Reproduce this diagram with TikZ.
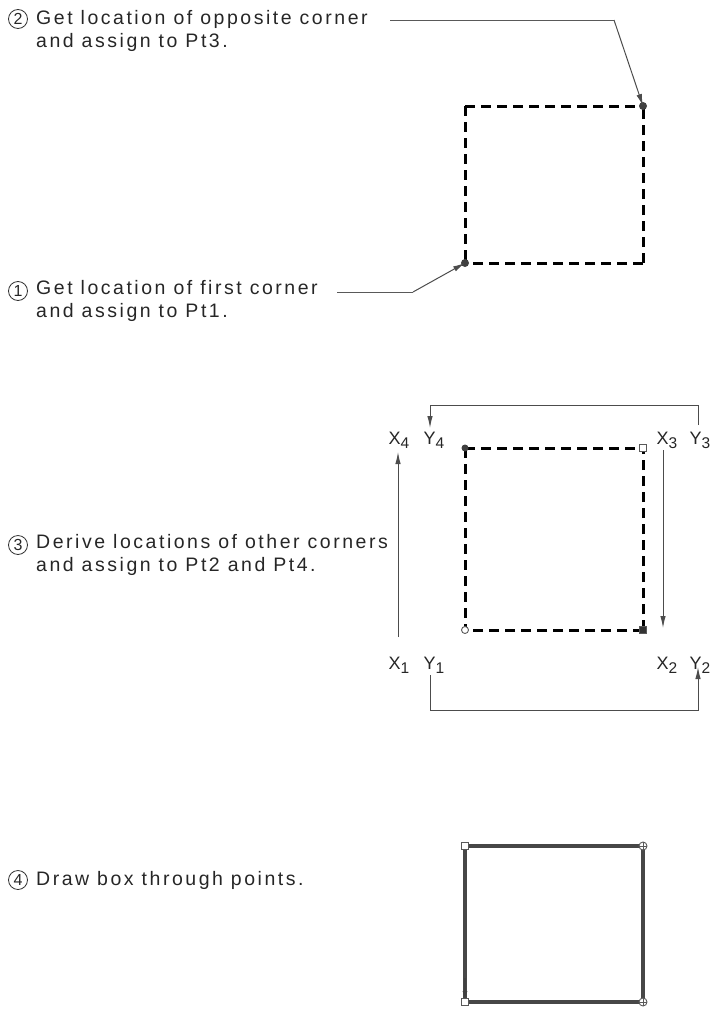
\documentclass[tikz,border=0pt]{standalone}
\usepackage{fontspec}
\setmainfont{Liberation Sans}[LetterSpace=13]
\usetikzlibrary{arrows.meta}
\newcommand{\lblsub}[1]{\raisebox{-0.45ex}{\fontsize{15.5}{15.5}\selectfont #1}}
\begin{document}
\begin{tikzpicture}[x=1pt,y=-1pt,
  txt/.style={anchor=west,align=left,inner sep=0pt,font=\fontsize{19.5}{22.5}\selectfont,text=black!85},
  num/.style={circle,draw=black!80,line width=0.8pt,inner sep=0pt,minimum size=19pt,font=\fontsize{16}{16}\selectfont,text=black!85},
  leader/.style={draw=black!65,line width=1pt},
  arr/.style={-{Latex[length=12pt,width=5.5pt]},draw=black!70,line width=1pt},
  dbox/.style={draw=black,line width=3pt,dash pattern=on 10pt off 6pt},
  sbox/.style={draw=black!72,line width=3.2pt},
  lbl/.style={inner sep=0pt,font=\fontsize{18}{18}\selectfont,text=black!85},
  dot/.style={circle,fill=black!75,inner sep=0pt,minimum size=8pt},
  hsq/.style={draw=black!65,fill=white,line width=0.9pt,inner sep=0pt,minimum size=7pt},
  hci/.style={circle,draw=black!65,fill=white,line width=0.9pt,inner sep=0pt,minimum size=8pt}]
\useasboundingbox (0,0) rectangle (713,1009);

% ---- step 2 / step 1
\node[num] (n2) at (18,19) {2};
\node[txt] (t2) at (36,31) {Get location of opposite corner\\and assign to Pt3.};
\coordinate (a) at (465,106);
\coordinate (b) at (643,106);
\coordinate (c) at (643,263);
\coordinate (d) at (465,263);
\draw[dbox] (a) -- (b);
\draw[dbox] (a) -- (d);
\draw[dbox] (c) -- (b);
\draw[dbox] (c) -- (d);
\node[dot] (p3) at (b) {};
\node[dot] (p1) at (d) {};
\coordinate (l2s) at (390,20);
\coordinate (l2b) at (614,20);
\draw[leader] (l2s) -- (l2b);
\draw[arr] (l2b) -- (p3.center);

\node[num] (n1) at (18,291) {1};
\node[txt] (t1) at (36,301) {Get location of first corner\\and assign to Pt1.};
\coordinate (l1s) at (337,292);
\coordinate (l1b) at (413,292);
\draw[leader] (l1s) -- (l1b);
\draw[arr] (l1b) -- (p1.center);

% ---- step 3
\node[num] (n3) at (18,545) {3};
\node[txt] (t3) at (36,555) {Derive locations of other corners\\and assign to Pt2 and Pt4.};
\coordinate (e) at (465,448);
\coordinate (f) at (643,448);
\coordinate (g) at (643,630);
\coordinate (h) at (465,630);
\draw[dbox] (e) -- (f);
\draw[dbox] (e) -- (h);
\draw[dbox] (g) -- (f);
\draw[dbox] (g) -- (h);
\node[dot,minimum size=7pt] (q4) at (e) {};
\node[hsq] (q3) at (f) {};
\node[hci,minimum size=7pt] (q1) at (h) {};
\node[hsq,fill=black!80] (q2) at (g) {};

\node[lbl,anchor=base] (x4) at (399,444) {X\lblsub{4}};
\node[lbl,anchor=base] (y4) at (434,444) {Y\lblsub{4}};
\node[lbl,anchor=base] (x3) at (667,444) {X\lblsub{3}};
\node[lbl,anchor=base] (y3) at (700,444) {Y\lblsub{3}};
\node[lbl,anchor=base] (x1) at (399,669) {X\lblsub{1}};
\node[lbl,anchor=base] (y1) at (434,669) {Y\lblsub{1}};
\node[lbl,anchor=base] (x2) at (667,669) {X\lblsub{2}};
\node[lbl,anchor=base] (y2) at (700,669) {Y\lblsub{2}};

\coordinate (tr) at (698,405);
\coordinate (tl) at (430,405);
\coordinate (br) at (698,710);
\coordinate (bl) at (430,710);
\draw[arr] (698,425) -- (tr) -- (tl) -- (430,428);
\draw[arr] (430,675) -- (bl) -- (br) -- (698,667);
\draw[arr] (398,637) -- (398,452);
\draw[arr] (663,450) -- (663,628);

% ---- step 4
\node[num] (n4) at (18,880) {4};
\node[txt] (t4) at (36,880) {Draw box through points.};
\coordinate (i) at (465,846);
\coordinate (j) at (643,846);
\coordinate (k) at (643,1002);
\coordinate (m) at (465,1002);
\draw[sbox] (i) -- (j) -- (k) -- (m) -- cycle;
\draw[-{Latex[length=9pt,width=5pt]},draw=black!75,line width=2.6pt] (465,978) -- (465,1000);
\node[hsq] (r1) at (i) {};
\node[hsq] (r4) at (m) {};
\node[hci] (r2) at (j) {};
\node[hci] (r3) at (k) {};
\draw[black!65,line width=0.7pt] (r2.north) -- (r2.south) (r2.west) -- (r2.east);
\draw[black!65,line width=0.7pt] (r3.north) -- (r3.south) (r3.west) -- (r3.east);
\end{tikzpicture}
\end{document}
